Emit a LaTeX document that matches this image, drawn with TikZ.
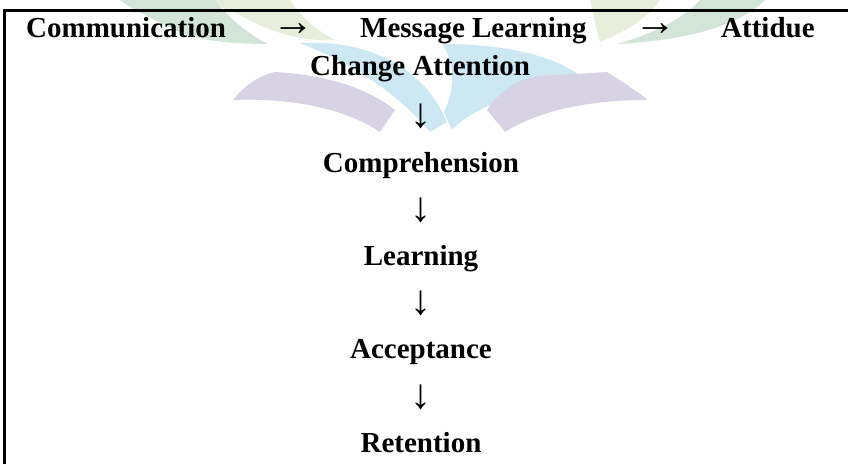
\documentclass[tikz,border=0pt]{standalone}
\usepackage{fontspec}
\setmainfont{Liberation Serif}
\begin{document}
\begin{tikzpicture}[x=1pt,y=-1pt,
  word/.style={font=\fontsize{29}{34}\selectfont\bfseries, inner sep=0pt, anchor=base west},
  stage/.style={font=\fontsize{29}{34}\selectfont\bfseries, inner sep=0pt, anchor=base},
  arrowglyph/.style={font=\fontsize{42}{48}\selectfont, inner sep=0pt, anchor=center}]
\definecolor{wmgreen}{HTML}{D3E4D8}
\definecolor{wmlime}{HTML}{E8EEDC}
\definecolor{wmblue}{HTML}{CBE8F3}
\definecolor{wmpurple}{HTML}{D7D3E5}
\useasboundingbox (0,0) rectangle (848,464);
\fill[white] (0,0) rectangle (848,464);

% faint open-book emblem behind the heading
\fill[wmlime] (205,0) -- (290,0) .. controls (300,15) and (315,30) .. (335,40)
  .. controls (300,42) and (265,30) .. (240,15) -- cycle;
\fill[wmgreen] (120,0) -- (215,0) .. controls (230,20) and (250,35) .. (268,44)
  .. controls (230,44) and (195,40) .. (175,30) .. controls (150,18) and (130,8) .. (120,0) -- cycle;
\fill[wmlime] (590,0) -- (660,0) .. controls (650,15) and (630,30) .. (600,42)
  .. controls (595,25) and (593,12) .. (590,0) -- cycle;
\fill[wmgreen] (700,0) -- (765,0) .. controls (740,25) and (690,40) .. (617,44)
  .. controls (650,35) and (685,18) .. (700,0) -- cycle;
\fill[wmblue] (300,43) .. controls (360,40) and (420,60) .. (447,122)
  -- (430,132) .. controls (400,95) and (350,62) .. (300,43) -- cycle;
\fill[wmblue] (443,44) .. controls (520,44) and (570,62) .. (590,85)
  .. controls (540,88) and (480,100) .. (452,130) -- (444,112)
  .. controls (455,90) and (455,65) .. (443,44) -- cycle;
\fill[wmpurple] (233,100) .. controls (245,85) and (260,75) .. (275,72)
  .. controls (330,75) and (370,90) .. (395,110) -- (380,132)
  .. controls (340,105) and (280,98) .. (233,100) -- cycle;
\fill[wmpurple] (487,110) .. controls (500,90) and (520,78) .. (540,76)
  -- (607,72) .. controls (620,80) and (635,90) .. (648,100)
  .. controls (590,100) and (540,110) .. (505,132) -- cycle;

% frame: top rule and left rule
\draw[line width=2.6pt] (4.7,464) -- (4.7,10.3) -- (848,10.3);

% heading line, justified across the frame
\node[word] (comm) at (26,37.5) {Communication};
\node[arrowglyph] (r1) at (293,30) {→};
\node[word] (msg) at (360,37.5) {Message Learning};
\node[arrowglyph] (r2) at (655,30) {→};
\node[word] (att) at (721,37.5) {Attidue};
\node[word] (chg) at (310,75.5) {Change Attention};

% vertical chain of stages
\node[arrowglyph] (d1) at (421,116) {↓};
\node[stage] (comp) at (421,172) {Comprehension};
\node[arrowglyph] (d2) at (421,210) {↓};
\node[stage] (learn) at (421,265) {Learning};
\node[arrowglyph] (d3) at (421,303) {↓};
\node[stage] (acc) at (421,358) {Acceptance};
\node[arrowglyph] (d4) at (421,397) {↓};
\node[stage] (ret) at (421,452) {Retention};
\end{tikzpicture}
\end{document}
